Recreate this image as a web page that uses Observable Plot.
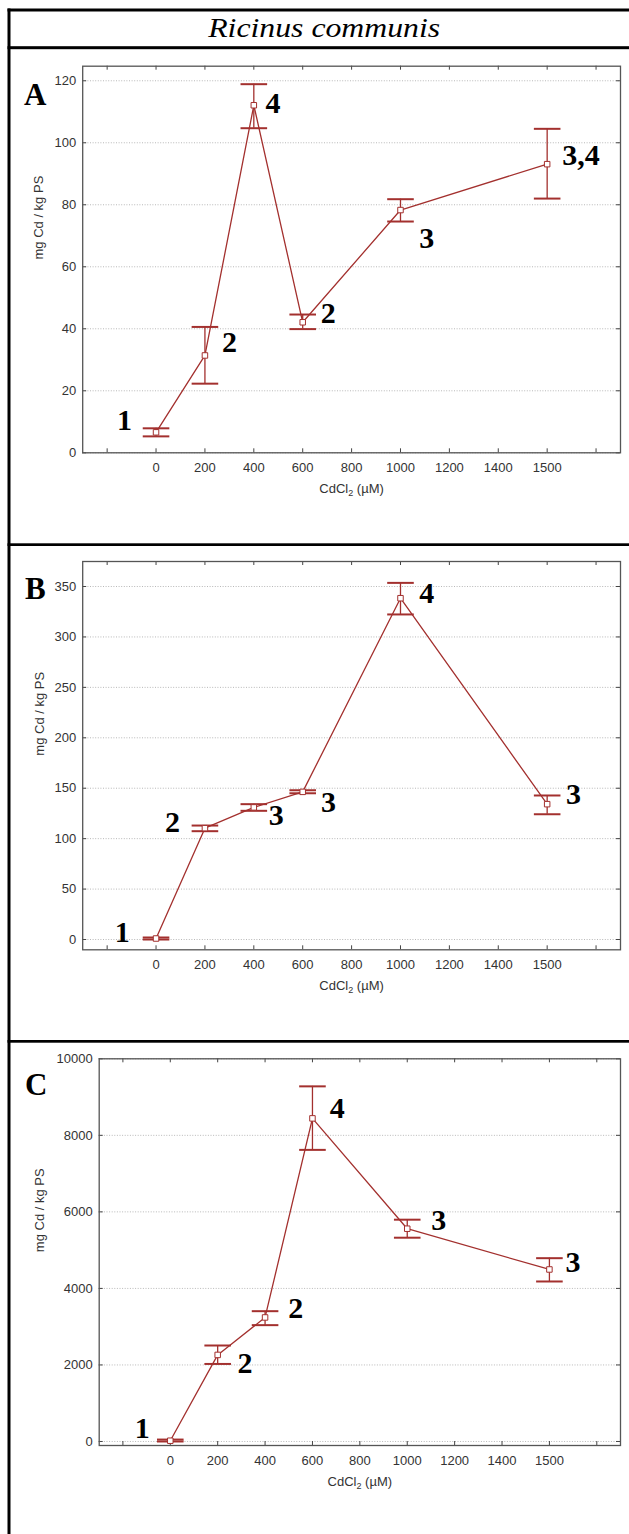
<!DOCTYPE html>
<html>
<head>
<meta charset="utf-8">
<script src="https://cdn.jsdelivr.net/npm/d3@7"></script>
<script src="https://cdn.jsdelivr.net/npm/@observablehq/plot@0.6"></script>
<style>
html,body{margin:0;padding:0;background:#fff}
#page{position:relative;width:629px;height:1534px;overflow:hidden;background:#fff}
#page > svg{position:absolute;left:0}
.serif{font-family:"Liberation Serif","Times New Roman",Times,serif}
</style>
</head>
<body>
<div id="page"></div>
<script>
// ---------------- data ----------------
const titleText = "Ricinus communis";
const panelLetters = ["A", "B", "C"];
const yAxisLabel = "mg Cd / kg PS";
const xAxisLabel = "CdCl2 (µM)";
const concentrations = ["0", "200", "400", "600", "1000", "1500"];
const xTickLabels = ["", "0", "200", "400", "600", "800", "1000", "1200", "1400", "1500", ""];

const meanA  = [6.6, 31.4, 112.1, 42.1, 78.3, 93.1];
const upperA = [7.9, 40.6, 118.9, 44.6, 81.8, 104.5];
const lowerA = [5.3, 22.3, 104.7, 39.9, 74.6, 82.0];
const groupsA = ["1", "2", "4", "2", "3", "3,4"];
const yTicksA = [0, 20, 40, 60, 80, 100, 120];

const meanB  = [1.0, 110.4, 131.0, 146.4, 338.4, 134.2];
const upperB = [2.0, 113.0, 134.2, 148.0, 353.6, 142.8];
const lowerB = [0.0, 107.4, 127.6, 145.0, 322.3, 124.2];
const groupsB = ["1", "2", "3", "3", "4", "3"];
const yTicksB = [0, 50, 100, 150, 200, 250, 300, 350];

const meanC  = [20, 2262, 3241, 8443, 5560, 4495];
const upperC = [50, 2508, 3405, 9280, 5796, 4790];
const lowerC = [0, 2026, 3040, 7620, 5325, 4181];
const groupsC = ["1", "2", "2", "4", "3", "3"];
const yTicksC = [0, 2000, 4000, 6000, 8000, 10000];

// ---------------- layout / style ----------------
const W = 629;
const RED = "#a3302e";
const AXIS_FONT = "'Liberation Sans', Arial, sans-serif";
const SERIF = "'Liberation Serif', 'Times New Roman', Times, serif";

const panels = [
  {means: meanA, upper: upperA, lower: lowerA, groups: groupsA, yTicks: yTicksA,
   yDomain: [0, 124.7], top: 49, height: 494, mt: 16.7, mb: 90.7, ml: 82.2, mr: 9, yLabelX: 38,
   place: [["end", -24, -11.7], ["start", 17, -13.3], ["start", 11.6, -1.4], ["start", 18, -8.4], ["start", 18.7, 28.6], ["start", 15, -8.3]]},
  {means: meanB, upper: upperB, lower: lowerB, groups: groupsB, yTicks: yTicksB,
   yDomain: [-10.2, 374.8], top: 546, height: 494, mt: 15, mb: 90.7, ml: 82.2, mr: 9, yLabelX: 39,
   place: [["end", -26.4, -6.3], ["end", -24.9, -6], ["start", 14.9, 8], ["start", 18.2, 10.4], ["start", 18.7, -5], ["start", 18.9, -9.7]]},
  {means: meanC, upper: upperC, lower: lowerC, groups: groupsC, yTicks: yTicksC,
   yDomain: [-105, 10000], top: 1043, height: 491, mt: 15.3, mb: 89, ml: 98.7, mr: 9, yLabelX: 39,
   place: [["end", -20.5, -12], ["start", 19.7, 8.6], ["start", 23.3, -8.7], ["start", 17.3, -9.7], ["start", 23.9, -8.7], ["start", 16, -7.3]]}
];

const capSymbol = {draw(ctx) { ctx.moveTo(-13.3, 0); ctx.lineTo(13.3, 0); }};
const tickPos = xTickLabels.map((_, i) => i - 1);

function makePanel(p) {
  const rows = concentrations.map((c, i) => ({
    pos: xTickLabels.indexOf(c) - 1, mean: p.means[i], hi: p.upper[i], lo: p.lower[i], label: p.groups[i]
  }));
  const innerH = p.height - p.mt - p.mb;
  const innerW = W - p.ml - p.mr;
  const labelMarks = rows.map((r, i) => Plot.text([r], {
    x: "pos", y: "mean", text: "label", textAnchor: p.place[i][0], dx: p.place[i][1], dy: p.place[i][2],
    fontWeight: "bold", fontSize: 30, fill: "#000", className: "serif"
  }));
  const svg = Plot.plot({
    width: W, height: p.height,
    marginTop: p.mt, marginBottom: p.mb, marginLeft: p.ml, marginRight: p.mr,
    style: {fontFamily: AXIS_FONT, background: "transparent", color: "#333", overflow: "visible"},
    x: {domain: [-1.5, 9.5], axis: null},
    y: {domain: p.yDomain, axis: null},
    marks: [
      Plot.gridY(p.yTicks, {stroke: "#b8b8b8", strokeOpacity: 1, strokeWidth: 1, strokeDasharray: "1,1.6"}),
      Plot.tickX(tickPos, {x: d => d, insetTop: innerH - 4, stroke: "#444"}),
      Plot.tickX(tickPos, {x: d => d, insetBottom: innerH - 4, stroke: "#444"}),
      Plot.tickY(p.yTicks, {y: d => d, insetRight: innerW - 4, stroke: "#444"}),
      Plot.tickY(p.yTicks, {y: d => d, insetLeft: innerW - 4, stroke: "#444"}),
      Plot.frame({stroke: "#555", strokeWidth: 1.3}),
      Plot.axisX(tickPos, {tickSize: 0, tickPadding: 9.8, tickFormat: d => xTickLabels[d + 1], fontSize: 13, fill: "#333", label: null}),
      Plot.axisY(p.yTicks, {tickSize: 0, tickPadding: 6.5, tickFormat: d => String(d), fontSize: 13, fill: "#333", label: null}),
      Plot.text([yAxisLabel], {frameAnchor: "left", dx: p.yLabelX - p.ml, rotate: -90, text: d => d, fontSize: 13, fill: "#333"}),
      Plot.text([xAxisLabel], {frameAnchor: "bottom", dy: 40.4, text: d => d, fontSize: 13, fill: "#333"}),
      Plot.ruleX(rows, {x: "pos", y1: "lo", y2: "hi", stroke: RED, strokeWidth: 1.3}),
      Plot.dot(rows, {x: "pos", y: "hi", symbol: capSymbol, stroke: RED, fill: "none", strokeWidth: 2}),
      Plot.dot(rows, {x: "pos", y: "lo", symbol: capSymbol, stroke: RED, fill: "none", strokeWidth: 2}),
      Plot.line(rows, {x: "pos", y: "mean", stroke: RED, strokeWidth: 1.3}),
      Plot.dot(rows, {x: "pos", y: "mean", symbol: "square", r: 3.1, fill: "white", stroke: RED, strokeWidth: 1}),
      ...labelMarks
    ]
  });
  svg.style.top = p.top + "px";
  d3.select(svg).selectAll("text").each(function() {
    if (this.textContent === xAxisLabel) {
      const t = d3.select(this);
      t.text("CdCl");
      t.append("tspan").attr("dy", 3).attr("font-size", 9).text("2");
      t.append("tspan").attr("dy", -3).text(" (µM)");
    }
  });
  d3.select(svg).selectAll(".serif text, text.serif, g.serif text").style("font-family", SERIF);
  return svg;
}

const page = document.getElementById("page");
panels.forEach(p => page.appendChild(makePanel(p)));

// overlay: table borders, title, panel letters
const ov = d3.create("svg").attr("width", W).attr("height", 1534).style("top", "0px");
const hLines = [[8.5, 3], [46.2, 3], [543.3, 2.7], [1040, 2.7]];
hLines.forEach(([y, h]) => ov.append("rect").attr("x", 7.5).attr("y", y).attr("width", 640).attr("height", h).attr("fill", "#000"));
ov.append("rect").attr("x", 7.5).attr("y", 8.5).attr("width", 3).attr("height", 1540).attr("fill", "#000");
ov.append("text").attr("x", 324.2).attr("y", 36.7).attr("text-anchor", "middle")
  .style("font-family", SERIF).attr("font-style", "italic").attr("font-size", 28)
  .attr("textLength", 232).attr("lengthAdjust", "spacingAndGlyphs").text(titleText);
const letterPos = [[24, 105], [25, 599], [25, 1095]];
panelLetters.forEach((L, i) => ov.append("text").attr("x", letterPos[i][0]).attr("y", letterPos[i][1])
  .style("font-family", SERIF).attr("font-weight", "bold").attr("font-size", 31).text(L));
page.appendChild(ov.node());
</script>
</body>
</html>
